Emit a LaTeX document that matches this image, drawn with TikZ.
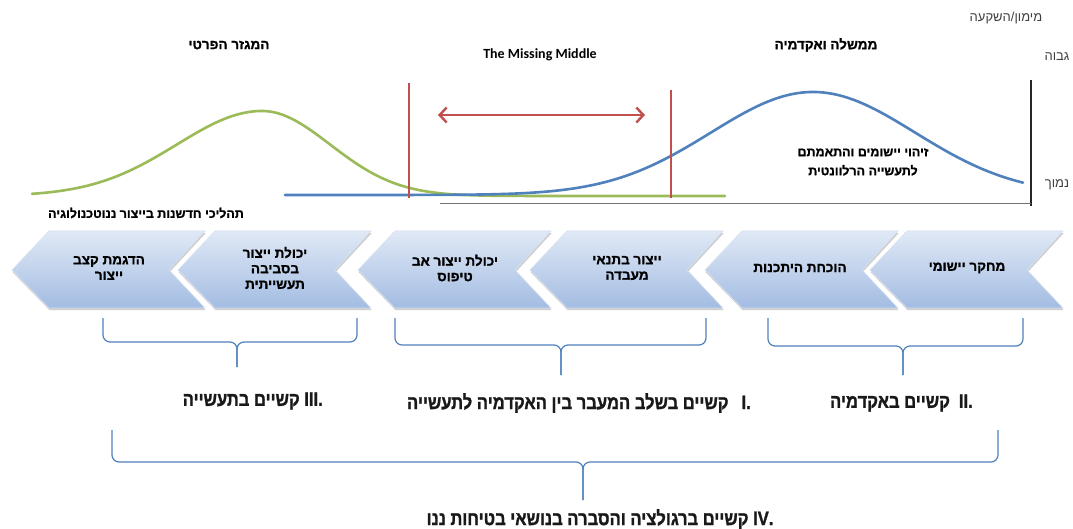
\documentclass[tikz,border=0pt]{standalone}
\usepackage{fontspec}
\usetikzlibrary{arrows.meta,shadows}
\TeXXeTstate=1
\newfontfamily\heb[Script=Hebrew]{Liberation Sans}
\newfontfamily\hebb[Script=Hebrew,FakeBold=1.2]{Liberation Sans Bold}
\newfontfamily\hebn[Script=Hebrew,FakeStretch=0.85,FakeBold=1.2]{Liberation Sans Bold}
\newfontfamily\calfont{Carlito}
\newcommand{\myrtl}[1]{\beginR#1\endR}
\definecolor{cgreen}{HTML}{9BBB59}
\definecolor{cblue}{HTML}{4F81BD}
\definecolor{cred}{HTML}{C0504D}
\definecolor{chevtop}{HTML}{E0E9F6}
\definecolor{chevbot}{HTML}{A3BCE2}
\definecolor{txtgray}{HTML}{404040}
\begin{document}
\begin{tikzpicture}[x=1pt,y=-1pt,
  ttl/.style={font=\hebb\fontsize{13.5}{15}\selectfont, text=black},
  plain/.style={font=\heb\fontsize{13}{15}\selectfont, text=txtgray},
  chevtxt/.style={font=\hebb\fontsize{13.5}{15.5}\selectfont, align=center, text=black},
  lab/.style={font=\hebn\fontsize{19.5}{21}\selectfont, text=black!90, inner sep=0pt},
  chev/.style={top color=chevtop, bottom color=chevbot, draw=white!55!chevbot, line width=0.6,
    drop shadow={shadow xshift=0.6pt, shadow yshift=-2.2pt, opacity=0.35, fill=black!55}},
  curve/.style={line width=2.6, line cap=round},
  redline/.style={cred, line width=2.6},
  brace/.style={cblue, line width=1.2, rounded corners=7},
  axisline/.style={black!85, line width=1.1}]
\path[fill=white, use as bounding box] (0,0) rectangle (1073,529);

% axis
\coordinate (axtop) at (1031,80);
\coordinate (axbot) at (1031,206);
\coordinate (baseL) at (440,204);
\draw[axisline] (axtop) -- (axbot);
\draw[black!55, line width=1] (baseL) -- (baseL -| axbot);

% curves
\draw[curve, cgreen] plot[domain=32:725, samples=140, smooth]
  (\x,{196-85*exp(-0.5*((\x-262)/(\x<262?85:68))^2)});
\draw[curve, cblue] plot[domain=285:1023, samples=160, smooth]
  (\x,{195-103*exp(-0.5*((\x-813)/102)^2)});

% red lines and arrow
\coordinate (r1t) at (409,83);  \coordinate (r1b) at (409,198);
\coordinate (r2t) at (671,90);  \coordinate (r2b) at (671,198);
\draw[redline] (r1t) -- (r1b);
\draw[redline] (r2t) -- (r2b);
\coordinate (al) at (438,115); \coordinate (ar) at (645,115);
\draw[redline, line width=2.4, {Straight Barb[length=7pt,width=15pt]}-{Straight Barb[length=7pt,width=15pt]}] (al) -- (ar);

% top texts
\node[plain] (fund) at (1006,18) {\myrtl{מימון/השקעה}};
\node[plain] (high) at (1057,57) {\myrtl{גבוה}};
\node[plain] (low) at (1057,185) {\myrtl{נמוך}};
\node[ttl] (gov) at (826,45) {\myrtl{ממשלה ואקדמיה}};
\node[ttl] (priv) at (229,45) {\myrtl{המגזר הפרטי}};
\node[font=\calfont\bfseries\fontsize{14}{16}\selectfont] (mm) at (540,55) {The Missing Middle};
\node[chevtxt, font=\hebb\fontsize{12.5}{19}\selectfont] (ident) at (863,162)
  {\myrtl{זיהוי יישומים והתאמתם}\\\myrtl{לתעשייה הרלוונטית}};
\node[ttl, font=\hebb\fontsize{12.5}{15}\selectfont] (proc) at (146,213) {\myrtl{תהליכי חדשנות בייצור ננוטכנולוגיה}};

% chevrons
\foreach \t in {12,178,358,530,705,870} {
  \path[chev] (\t,270) -- (\t+37,231) -- (\t+193,231) -- (\t+157,270) -- (\t+193,308) -- (\t+37,308) -- cycle;
}
\node[chevtxt] (c1) at (109,268) {\myrtl{הדגמת קצב}\\\myrtl{ייצור}};
\node[chevtxt] (c2) at (275,268) {\myrtl{יכולת ייצור}\\\myrtl{בסביבה}\\\myrtl{תעשייתית}};
\node[chevtxt] (c3) at (455,268) {\myrtl{יכולת ייצור אב}\\\myrtl{טיפוס}};
\node[chevtxt] (c4) at (627,268) {\myrtl{ייצור בתנאי}\\\myrtl{מעבדה}};
\node[chevtxt] (c5) at (800,268) {\myrtl{הוכחת היתכנות}};
\node[chevtxt] (c6) at (967,268) {\myrtl{מחקר יישומי}};

% braces
\draw[brace] (103,318) -- (103,342) -- (237,342) -- (237,367);
\draw[brace] (357,318) -- (357,342) -- (237,342) -- (237,367);
\draw[brace] (395,318) -- (395,345) -- (561,345) -- (561,375);
\draw[brace] (706,318) -- (706,345) -- (561,345) -- (561,375);
\draw[brace] (768,318) -- (768,346) -- (903,346) -- (903,375);
\draw[brace] (1023,318) -- (1023,346) -- (903,346) -- (903,375);
\draw[brace] (112,430) -- (112,462) -- (583,462) -- (583,500);
\draw[brace] (998,430) -- (998,462) -- (583,462) -- (583,500);

% labels
\node[lab, anchor=east] (l3) at (323,401) {\myrtl{קשיים בתעשייה}\ III.};
\node[lab, anchor=east] (l1) at (751,403) {\myrtl{קשיים בשלב המעבר בין האקדמיה לתעשייה}\hspace{13pt}I.};
\node[lab, anchor=east] (l2) at (973,403) {\myrtl{קשיים באקדמיה}\hspace{9pt}II.};
\node[lab] (l4) at (600,519) {\myrtl{קשיים ברגולציה והסברה בנושאי בטיחות ננו}\ IV.};
\end{tikzpicture}
\end{document}
